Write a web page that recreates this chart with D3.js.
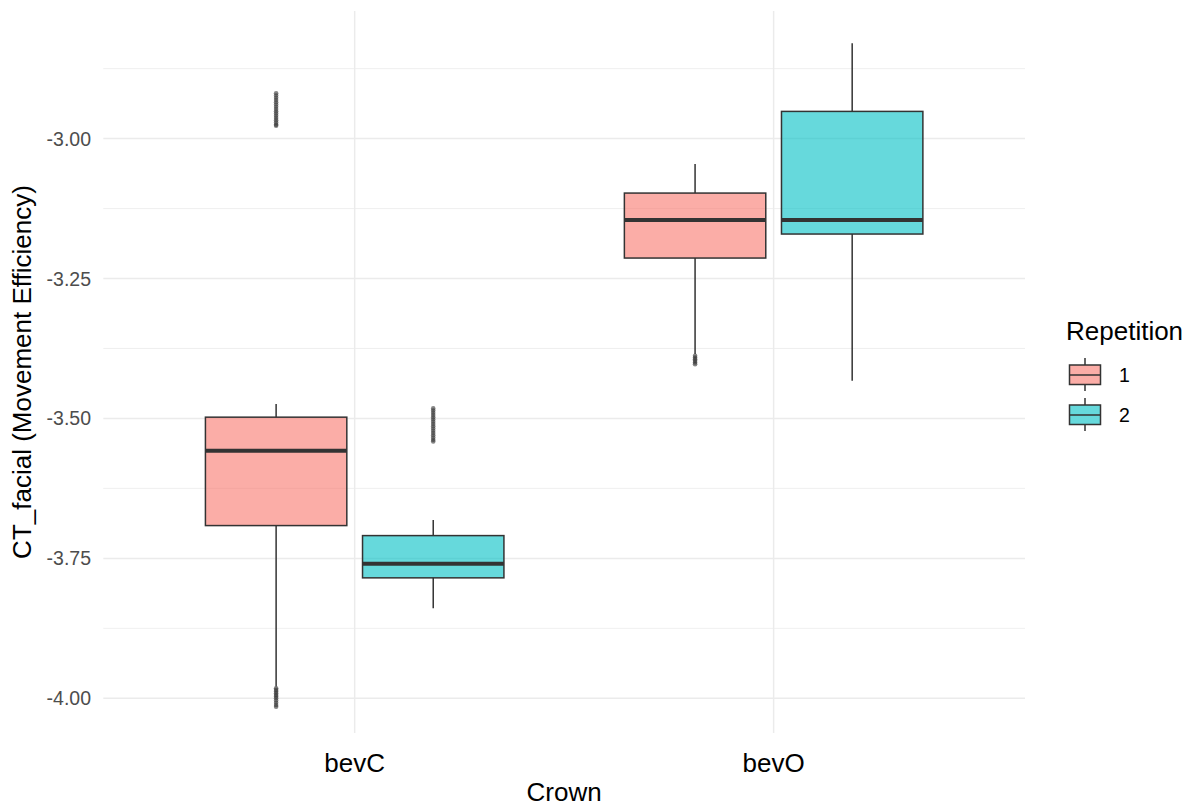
<!DOCTYPE html>
<html>
<head>
<meta charset="utf-8">
<script src="https://cdn.jsdelivr.net/npm/d3@7"></script>
<style>
  html, body { margin: 0; padding: 0; background: #ffffff; }
  svg { display: block; font-family: "Liberation Sans", Arial, sans-serif; }
</style>
</head>
<body>
<svg id="chart" width="1192" height="808"></svg>
<script>
// Crown categories and repetition groups
const crowns = ["bevC", "bevO"];
const repetitions = ["1", "2"];
const repColors = ["#F8766D", "#00BFC4"];

// Five-number summaries per crown, one entry per repetition
const lowerWhisker = { bevC: [-3.979, -3.839], bevO: [-3.385, -3.4325] };
const q1Values     = { bevC: [-3.6914, -3.7848], bevO: [-3.2134, -3.1705] };
const medianValues = { bevC: [-3.5575, -3.7598], bevO: [-3.1455, -3.1455] };
const q3Values     = { bevC: [-3.4977, -3.7093], bevO: [-3.0973, -2.9514] };
const upperWhisker = { bevC: [-3.4741, -3.6813], bevO: [-3.0455, -2.8295] };

// Outlying observations per crown / repetition
const outliersBevC1 = [-2.919, -2.923, -2.927, -2.931, -2.935, -2.939, -2.943, -2.947, -2.951,
  -2.955, -2.959, -2.963, -2.967, -2.971, -2.975, -2.977,
  -3.982, -3.985, -3.988, -3.991, -3.994, -3.997, -4.000, -4.004, -4.008, -4.012, -4.015];
const outliersBevC2 = [-3.482, -3.486, -3.490, -3.494, -3.498, -3.502, -3.506, -3.510, -3.514,
  -3.518, -3.522, -3.526, -3.530, -3.534, -3.538, -3.541];
const outliersBevO1 = [-3.388, -3.391, -3.394, -3.397, -3.400, -3.403];
const outliersBevO2 = [];
const outlierValues = { bevC: [outliersBevC1, outliersBevC2], bevO: [outliersBevO1, outliersBevO2] };

// Axis ticks and limits
const yTicks = [-3.00, -3.25, -3.50, -3.75, -4.00];
const yTickLabels = ["-3.00", "-3.25", "-3.50", "-3.75", "-4.00"];
const yMinorTicks = [-2.875, -3.125, -3.375, -3.625, -3.875];
const yLimits = [-4.062, -2.772];

const svg = d3.select("#chart");
const panel = { left: 103.3, right: 1025, top: 11, bottom: 733 };

const x = d3.scalePoint().domain(crowns).range([panel.left, panel.right]).padding(0.6);
const y = d3.scaleLinear().domain(yLimits).range([panel.bottom, panel.top]);
const color = d3.scaleOrdinal().domain(repetitions).range(repColors);

const step = x.step();
const dodge = d3.scaleBand().domain(repetitions).range([-0.375 * step, 0.375 * step]);
const boxWidth = dodge.bandwidth() * 0.9;

const gridColor = "#EBEBEB";

// Grid lines
const grid = svg.append("g");
grid.selectAll("line.minor").data(yMinorTicks).join("line")
  .attr("x1", panel.left).attr("x2", panel.right)
  .attr("y1", d => y(d)).attr("y2", d => y(d))
  .attr("stroke", gridColor).attr("stroke-width", 0.8);
grid.selectAll("line.major").data(yTicks).join("line")
  .attr("x1", panel.left).attr("x2", panel.right)
  .attr("y1", d => y(d)).attr("y2", d => y(d))
  .attr("stroke", gridColor).attr("stroke-width", 1.5);
grid.selectAll("line.vx").data(crowns).join("line")
  .attr("x1", d => x(d)).attr("x2", d => x(d))
  .attr("y1", panel.top).attr("y2", panel.bottom)
  .attr("stroke", gridColor).attr("stroke-width", 1.5);

// Build box records
const boxes = [];
crowns.forEach(c => repetitions.forEach((r, i) => {
  boxes.push({
    crown: c, rep: r,
    lo: lowerWhisker[c][i], q1: q1Values[c][i], med: medianValues[c][i],
    q3: q3Values[c][i], hi: upperWhisker[c][i], out: outlierValues[c][i]
  });
}));
const cx = d => x(d.crown) + dodge(d.rep) + dodge.bandwidth() / 2;

const lineColor = "#333333";
const boxG = svg.append("g").selectAll("g").data(boxes).join("g");

// Whiskers
boxG.append("line")
  .attr("x1", cx).attr("x2", cx)
  .attr("y1", d => y(d.hi)).attr("y2", d => y(d.q3))
  .attr("stroke", lineColor).attr("stroke-width", 1.5);
boxG.append("line")
  .attr("x1", cx).attr("x2", cx)
  .attr("y1", d => y(d.q1)).attr("y2", d => y(d.lo))
  .attr("stroke", lineColor).attr("stroke-width", 1.5);

// Boxes
boxG.append("rect")
  .attr("x", d => cx(d) - boxWidth / 2)
  .attr("width", boxWidth)
  .attr("y", d => y(d.q3))
  .attr("height", d => y(d.q1) - y(d.q3))
  .attr("fill", d => color(d.rep)).attr("fill-opacity", 0.6)
  .attr("stroke", lineColor).attr("stroke-width", 1.5);

// Medians
boxG.append("line")
  .attr("x1", d => cx(d) - boxWidth / 2).attr("x2", d => cx(d) + boxWidth / 2)
  .attr("y1", d => y(d.med)).attr("y2", d => y(d.med))
  .attr("stroke", lineColor).attr("stroke-width", 4);

// Outliers
boxG.each(function (d) {
  d3.select(this).selectAll("circle").data(d.out).join("circle")
    .attr("cx", cx(d)).attr("cy", v => y(v)).attr("r", 2.3)
    .attr("fill", lineColor).attr("fill-opacity", 0.6);
});

// Y axis tick labels
svg.append("g").selectAll("text").data(yTicks).join("text")
  .attr("x", 91).attr("y", d => y(d))
  .attr("dy", "0.36em")
  .attr("text-anchor", "end")
  .attr("font-size", 19.5).attr("fill", "#4D4D4D")
  .text((d, i) => yTickLabels[i]);

// X axis tick labels
svg.append("g").selectAll("text").data(crowns).join("text")
  .attr("x", d => x(d)).attr("y", 772)
  .attr("text-anchor", "middle")
  .attr("font-size", 26).attr("fill", "#000000")
  .text(d => d);

// Axis titles
svg.append("text")
  .attr("x", (panel.left + panel.right) / 2).attr("y", 801)
  .attr("text-anchor", "middle").attr("font-size", 26).attr("fill", "#000000")
  .text("Crown");
svg.append("text")
  .attr("transform", `translate(31,${(panel.top + panel.bottom) / 2}) rotate(-90)`)
  .attr("text-anchor", "middle").attr("font-size", 26).attr("fill", "#000000")
  .text("CT_facial (Movement Efficiency)");

// Legend
const legend = svg.append("g").attr("transform", "translate(1066,0)");
legend.append("text").attr("x", 0).attr("y", 340)
  .attr("font-size", 26).attr("fill", "#000000").text("Repetition");
const keyCenters = [375, 415];
const keys = legend.selectAll("g.key").data(repetitions).join("g")
  .attr("transform", (d, i) => `translate(0,${keyCenters[i]})`);
keys.append("line").attr("x1", 19).attr("x2", 19).attr("y1", -17).attr("y2", 16)
  .attr("stroke", lineColor).attr("stroke-width", 1.5);
keys.append("rect").attr("x", 3.5).attr("y", -10).attr("width", 31).attr("height", 19.5)
  .attr("fill", "#ffffff");
keys.append("rect").attr("x", 3.5).attr("y", -10).attr("width", 31).attr("height", 19.5)
  .attr("fill", d => color(d)).attr("fill-opacity", 0.6)
  .attr("stroke", lineColor).attr("stroke-width", 1.5);
keys.append("line").attr("x1", 3.5).attr("x2", 34.5).attr("y1", 0).attr("y2", 0)
  .attr("stroke", lineColor).attr("stroke-width", 1.5);
keys.append("text").attr("x", 53).attr("y", 0).attr("dy", "0.36em")
  .attr("font-size", 19.5).attr("fill", "#000000").text(d => d);
</script>
</body>
</html>
